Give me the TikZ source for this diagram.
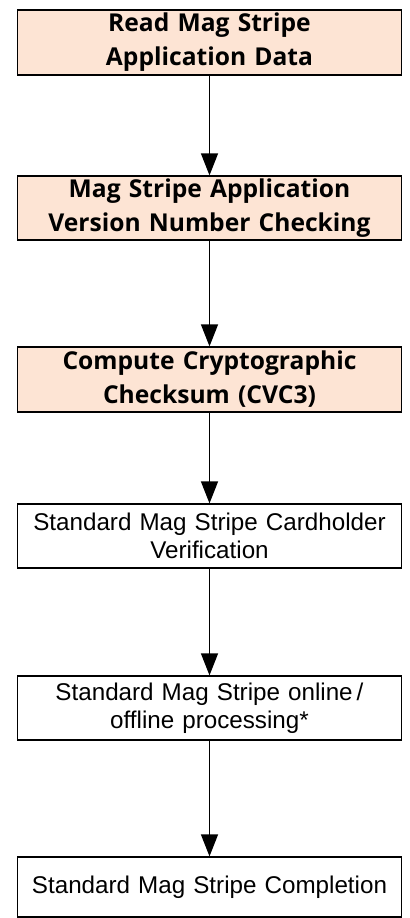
\documentclass[tikz,border=0pt]{standalone}
\usepackage{fontspec}
\setmainfont{Liberation Sans}
\newfontfamily\boldfam{Open Sans}
\usetikzlibrary{arrows.meta}
\definecolor{peach}{RGB}{253,228,212}
\tikzset{
  box/.style={draw=black, line width=1.2bp, minimum width=384bp, inner sep=0pt, align=center, text width=380bp},
  hlbox/.style={box, fill=peach, font=\boldfam\bfseries\fontsize{24.6bp}{34bp}\selectfont},
  plainbox/.style={box, fill=white, font=\fontsize{24.2bp}{28bp}\selectfont},
  flow/.style={draw=black, line width=1.2bp, -{Triangle[width=17bp,length=22bp]}}
}
\begin{document}
\begin{tikzpicture}[x=1bp,y=-1bp]
\useasboundingbox (0,0) rectangle (409,918);
\node[hlbox, minimum height=65bp] (a) at (209.5,42.5) {Read Mag Stripe\\Application Data};
\node[hlbox, minimum height=64bp] (b) at (209.5,208) {Mag Stripe Application\\Version Number Checking};
\node[hlbox, minimum height=65bp] (c) at (209.5,379.5) {Compute Cryptographic\\Checksum (CVC3)};
\node[plainbox, minimum height=64bp] (d) at (209.5,536) {Standard Mag Stripe Cardholder\\Verification};
\node[plainbox, minimum height=64bp] (e) at (209.5,708) {Standard Mag Stripe online\,/\\offline processing*};
\node[plainbox, minimum height=60bp] (f) at (209.5,887) {Standard Mag Stripe Completion};
\draw[flow] (a) -- (b);
\draw[flow] (b) -- (c);
\draw[flow] (c) -- (d);
\draw[flow] (d) -- (e);
\draw[flow] (e) -- (f);
\end{tikzpicture}
\end{document}
